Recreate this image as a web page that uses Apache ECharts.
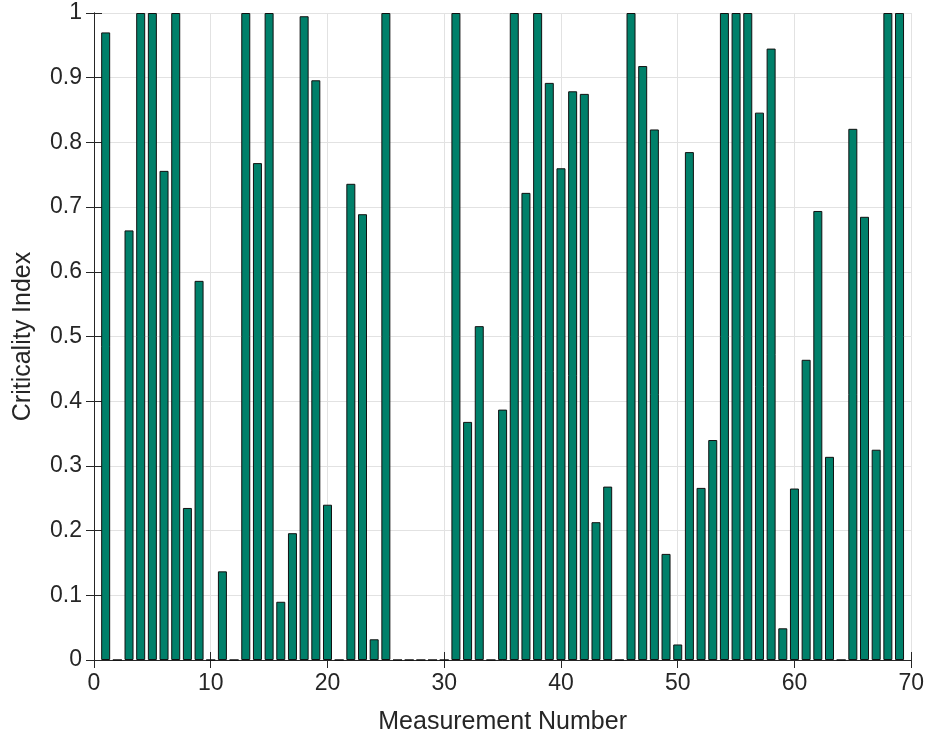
<!DOCTYPE html>
<html lang="en">
<head>
    <meta charset="UTF-8">
    <title>Criticality Index</title>
    <script src="https://cdn.jsdelivr.net/npm/echarts@6/dist/echarts.min.js"></script>
    <style>
        html, body { margin: 0; padding: 0; background: #fff; }
        #main { width: 927px; height: 740px; }
    </style>
</head>
<body>
<div id="main"></div>
<script>
    // measurement numbers 1..69
    var measurements = [1, 2, 3, 4, 5, 6, 7, 8, 9, 10, 11, 12, 13, 14, 15, 16, 17, 18, 19, 20,
        21, 22, 23, 24, 25, 26, 27, 28, 29, 30, 31, 32, 33, 34, 35, 36, 37, 38, 39, 40,
        41, 42, 43, 44, 45, 46, 47, 48, 49, 50, 51, 52, 53, 54, 55, 56, 57, 58, 59, 60,
        61, 62, 63, 64, 65, 66, 67, 68, 69];

    // criticality index
    var criticality = [0.970, 0, 0.664, 1, 1, 0.756, 1, 0.235, 0.586, 0,
        0.137, 0, 1, 0.768, 1, 0.090, 0.196, 0.995, 0.896, 0.240,
        0, 0.736, 0.689, 0.032, 1, 0, 0, 0, 0, 0,
        1, 0.368, 0.516, 0, 0.387, 1, 0.722, 1, 0.892, 0.760,
        0.879, 0.875, 0.213, 0.268, 0, 1, 0.918, 0.820, 0.164, 0.024,
        0.785, 0.266, 0.340, 1, 1, 1, 0.846, 0.945, 0.049, 0.265,
        0.464, 0.694, 0.314, 0, 0.821, 0.685, 0.325, 1, 1];

    var xTicks = [0, 10, 20, 30, 40, 50, 60, 70];
    var yTicks = [0, 0.1, 0.2, 0.3, 0.4, 0.5, 0.6, 0.7, 0.8, 0.9, 1];

    var barData = measurements.map(function (m, i) { return [m, criticality[i]]; });

    var axisColor = '#262626';
    var font = 'Liberation Sans, Arial, Helvetica, sans-serif';

    var myChart = echarts.init(document.getElementById('main'));

    var option = {
        animation: false,
        backgroundColor: '#ffffff',
        grid: { left: 94, right: 14, top: 13, bottom: 79 },
        xAxis: [{
            type: 'value',
            min: xTicks[0],
            max: xTicks[xTicks.length - 1],
            interval: 10,
            name: 'Measurement Number',
            nameLocation: 'middle',
            nameGap: 50,
            nameTextStyle: { fontFamily: font, fontSize: 25, color: axisColor },
            axisLine: { show: true, onZero: false, lineStyle: { color: axisColor, width: 1 } },
            axisTick: { show: true, inside: true, length: 8, lineStyle: { color: axisColor } },
            axisLabel: { fontFamily: font, fontSize: 23, color: axisColor, margin: 12 },
            splitLine: { show: true, lineStyle: { color: '#e2e2e2', width: 1 } }
        }, {
            type: 'value',
            position: 'top',
            min: xTicks[0],
            max: xTicks[xTicks.length - 1],
            interval: 10,
            axisLine: { show: true, lineStyle: { color: axisColor, width: 1 } },
            axisTick: { show: true, inside: true, length: 8, lineStyle: { color: axisColor } },
            axisLabel: { show: false },
            splitLine: { show: false }
        }],
        yAxis: [{
            type: 'value',
            min: yTicks[0],
            max: yTicks[yTicks.length - 1],
            interval: 0.1,
            name: 'Criticality Index',
            nameLocation: 'middle',
            nameGap: 58,
            nameTextStyle: { fontFamily: font, fontSize: 25, color: axisColor },
            axisLine: { show: true, lineStyle: { color: axisColor, width: 1 } },
            axisTick: { show: true, inside: true, length: 8, lineStyle: { color: axisColor } },
            axisLabel: { fontFamily: font, fontSize: 23, color: axisColor, margin: 12 },
            splitLine: { show: true, lineStyle: { color: '#e2e2e2', width: 1 } }
        }, {
            type: 'value',
            position: 'right',
            min: yTicks[0],
            max: yTicks[yTicks.length - 1],
            interval: 0.1,
            axisLine: { show: true, lineStyle: { color: axisColor, width: 1 } },
            axisTick: { show: true, inside: true, length: 8, lineStyle: { color: axisColor } },
            axisLabel: { show: false },
            splitLine: { show: false }
        }],
        series: [{
            type: 'bar',
            xAxisIndex: 0,
            yAxisIndex: 0,
            barWidth: 9,
            data: barData,
            itemStyle: {
                color: '#00806a',
                borderColor: '#111111',
                borderWidth: 1
            }
        }]
    };

    myChart.setOption(option);
</script>
</body>
</html>
